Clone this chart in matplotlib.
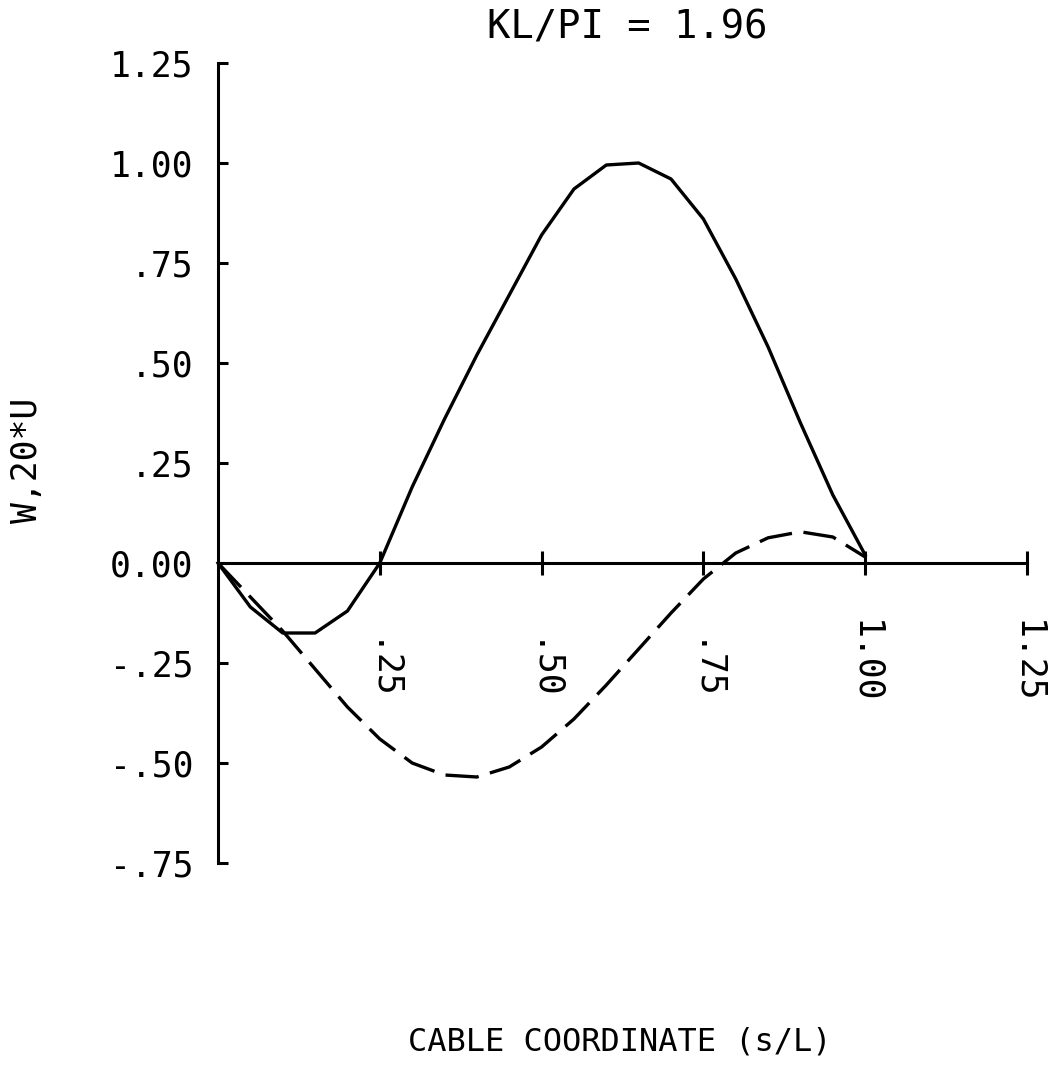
import matplotlib
matplotlib.use("Agg")
import matplotlib.pyplot as plt

# cable coordinate s/L (sampled as plotted)
s = [0.00, 0.05, 0.10, 0.15, 0.20, 0.25, 0.30, 0.35, 0.40, 0.45, 0.50,
     0.55, 0.60, 0.65, 0.70, 0.75, 0.80, 0.85, 0.90, 0.95, 1.00]
# W (solid)
w = [0.00, -0.11, -0.175, -0.175, -0.12, 0.00, 0.19, 0.36, 0.52, 0.67, 0.82,
     0.935, 0.995, 1.00, 0.96, 0.86, 0.71, 0.54, 0.35, 0.17, 0.02]
# 20*U (dashed)
u20 = [0.00, -0.085, -0.17, -0.265, -0.36, -0.44, -0.50, -0.53, -0.535, -0.51, -0.46,
       -0.39, -0.305, -0.215, -0.125, -0.04, 0.025, 0.063, 0.078, 0.065, 0.015]

xticks = [0.25, 0.50, 0.75, 1.00, 1.25]
xtick_labels = [".25", ".50", ".75", "1.00", "1.25"]
yticks = [-0.75, -0.50, -0.25, 0.00, 0.25, 0.50, 0.75, 1.00, 1.25]
ytick_labels = ["-.75", "-.50", "-.25", "0.00", ".25", ".50", ".75", "1.00", "1.25"]

FONT = "DejaVu Sans Mono"

fig = plt.figure(figsize=(10.52, 10.8), dpi=100)
W, H = 1052, 1080
# axes box in pixels: x 218..1027 (s 0..1.25), y 63..863 (1.25..-0.75)
ax = fig.add_axes([218 / W, (H - 863) / H, 809 / W, 800 / H])
ax.set_xlim(0, 1.25)
ax.set_ylim(-0.75, 1.25)

ax.plot(s, w, color="black", lw=2.4, clip_on=False)
ax.plot(s, u20, color="black", lw=2.4, dashes=(10, 3.5), clip_on=False)

for side in ["top", "right"]:
    ax.spines[side].set_visible(False)
ax.spines["bottom"].set_position(("data", 0))
ax.spines["bottom"].set_bounds(0, 1.25)
ax.spines["left"].set_bounds(-0.75, 1.25)
for side in ["bottom", "left"]:
    ax.spines[side].set_linewidth(2.2)

ax.set_yticks(yticks)
ax.set_yticklabels(ytick_labels, fontfamily=FONT, fontsize=25)
ax.tick_params(axis="y", direction="in", length=7, width=2.2, pad=18)

ax.set_xticks(xticks)
ax.set_xticklabels([])
ax.tick_params(axis="x", direction="inout", length=17, width=2.2)

for xv, lab in zip(xticks, xtick_labels):
    ax.text(xv, -0.35, lab, rotation=-90, ha="center", va="bottom",
            fontfamily=FONT, fontsize=25)

fig.text(627 / W, 1 - 27 / H, "KL/PI = 1.96", ha="center", va="center",
         fontfamily=FONT, fontsize=28)
fig.text(620 / W, 1 - 1042 / H, "CABLE COORDINATE (s/L)", ha="center", va="center",
         fontfamily=FONT, fontsize=23)
fig.text(27 / W, 1 - 460 / H, "W,20*U", ha="center", va="center", rotation=90,
         fontfamily=FONT, fontsize=25)

fig.savefig("out.png", dpi=100)
